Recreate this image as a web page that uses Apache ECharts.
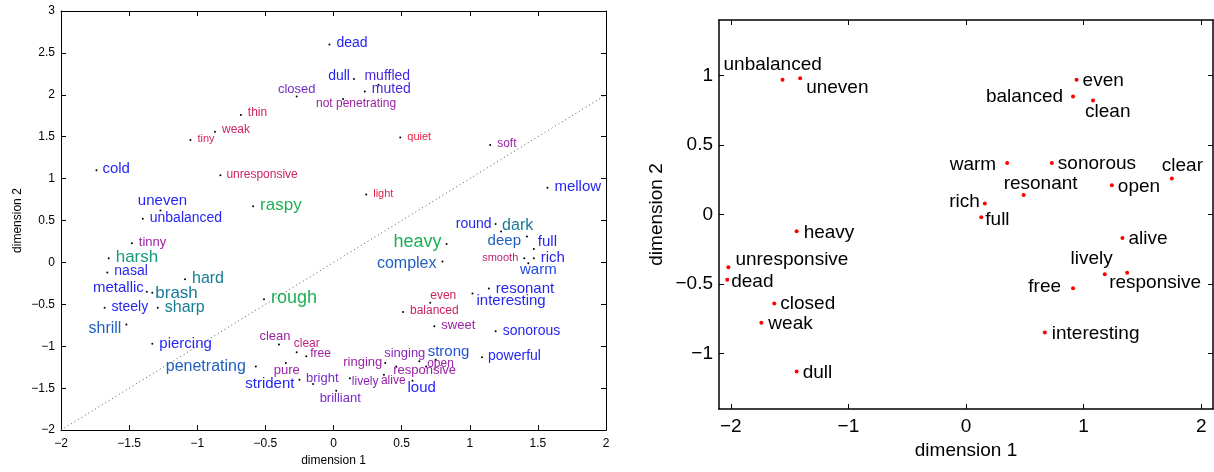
<!DOCTYPE html>
<html><head><meta charset="utf-8">
<script src="https://cdn.jsdelivr.net/npm/echarts@6/dist/echarts.min.js"></script>
<style>html,body{margin:0;padding:0;background:#fff}#c{width:1214px;height:472px}</style>
</head><body><div id="c"></div>
<script>
// ---------- LEFT PANEL DATA ----------
const leftWords = ['dead','dull','muffled','muted','closed','not penetrating','thin','weak','tiny','quiet','soft','cold','unresponsive','light','mellow','uneven','unbalanced','raspy','tinny','harsh','nasal','hard','metallic','brash','steely','sharp','shrill','rough','piercing','penetrating','clean','clear','free','pure','strident','bright','brilliant','round','dark','deep','full','heavy','complex','smooth','rich','warm','resonant','interesting','even','balanced','sweet','sonorous','powerful','strong','open','singing','ringing','responsive','alive','lively','loud'];
const leftX = [-0.03,0.15,0.33,0.23,-0.27,0.07,-0.68,-0.87,-1.05,0.49,1.15,-1.74,-0.83,0.24,1.57,-1.27,-1.40,-0.59,-1.48,-1.65,-1.66,-1.09,-1.37,-1.33,-1.68,-1.29,-1.52,-0.51,-1.33,-0.57,-0.40,-0.27,-0.20,-0.35,-0.25,-0.15,0.02,1.19,1.23,1.42,1.47,0.83,0.80,1.40,1.47,1.43,1.14,1.02,0.71,0.51,0.74,1.19,1.09,0.75,0.68,0.63,0.38,0.46,0.37,0.12,0.58];
const leftY = [2.60,2.19,2.12,2.04,1.98,1.95,1.76,1.56,1.46,1.49,1.40,1.10,1.04,0.81,0.89,0.62,0.52,0.67,0.23,0.05,-0.12,-0.20,-0.35,-0.36,-0.54,-0.54,-0.74,-0.44,-0.97,-1.24,-0.98,-1.07,-1.12,-1.20,-1.40,-1.45,-1.53,0.46,0.37,0.31,0.16,0.22,0.01,0.05,0.05,-0.01,-0.31,-0.37,-0.48,-0.59,-0.76,-0.82,-1.13,-1.16,-1.24,-1.18,-1.20,-1.24,-1.34,-1.38,-1.41];
const leftXTicks = [-2,-1.5,-1,-0.5,0,0.5,1,1.5,2];
const leftYTicks = [-2,-1.5,-1,-0.5,0,0.5,1,1.5,2,2.5,3];
const diagX = [-2, 2];
const diagY = [-2, 2];

// ---------- RIGHT PANEL DATA ----------
const rightWords = ['unbalanced','uneven','heavy','unresponsive','dead','closed','weak','dull','even','balanced','clean','warm','sonorous','clear','resonant','open','rich','full','alive','lively','responsive','free','interesting'];
const rightX = [-1.56,-1.41,-1.44,-2.02,-2.03,-1.63,-1.74,-1.44,0.94,0.91,1.08,0.35,0.73,1.75,0.49,1.24,0.16,0.13,1.33,1.18,1.37,0.91,0.67];
const rightY = [0.97,0.98,-0.12,-0.38,-0.47,-0.64,-0.78,-1.13,0.97,0.85,0.82,0.37,0.37,0.26,0.14,0.21,0.08,-0.02,-0.17,-0.43,-0.42,-0.53,-0.85];
const rightXTicks = [-2,-1,0,1,2];
const rightYTicks = [-1,-0.5,0,0.5,1];

// ---------- STYLES (not data) ----------
const BL='#2626f2', VB='#4a26e0', BT='#2260c0', TE='#177b98', TG='#179a7c', GR='#1fb057', PU='#9a22a4', VI='#762cc8', CR='#cc2264', RD='#ea2244';
const leftColor = [BL,BL,VB,VB,VI,PU,CR,CR,CR,RD,PU,BL,CR,RD,BL,BL,BL,GR,PU,TG,BL,TE,BL,TE,BL,TE,BT,GR,BL,BT,PU,'#c02280',PU,PU,BL,VI,VI,BL,TE,BT,BL,GR,BT,'#c02270',BL,'#2248e4',BL,BL,CR,CR,PU,BL,BL,'#2252d4',PU,'#8a28b8',PU,PU,PU,'#8a28b8',BL];
const leftFont = [14,14,14,14,13,12,12,12,11,11,12,15,12,11,15,15,14,17,13,17,14,16,15,17,14,16,16,18,15,16,13,12,12,13,15,13,13,14,16,15,15,18,16,11,15,15,15,15,12,12,13,14,14,15,12,13,13,13,12,12,15];
// label placement relative to dot: [dx, dy, align]
const leftPlace = [[7,-1,'left'],[-4,-3,'right'],[-14,-9,'left'],[7,-2,'left'],[0,-7,'center'],[13,5,'center'],[7,-2,'left'],[7,-2,'left'],[7,-1,'left'],[7,-1,'left'],[7,-1,'left'],[6,-1,'left'],[6,-1,'left'],[7,-1,'left'],[7,-1,'left'],[2,-10,'center'],[7,-1,'left'],[7,-1,'left'],[7,-1,'left'],[7,-1,'left'],[7,-1,'left'],[7,-1,'left'],[-3,-4,'right'],[3,1,'left'],[7,-1,'left'],[7,0,'left'],[-5,4,'right'],[7,-1,'left'],[7,0,'left'],[-10,0,'right'],[-4,-8,'center'],[-3,-8,'left'],[4,-3,'left'],[1,7,'center'],[-5,4,'right'],[-7,-6,'left'],[4,8,'center'],[-4,0,'right'],[1,-6,'left'],[-6,4,'right'],[4,-7,'left'],[-5,-2,'right'],[-6,2,'right'],[-6,0,'right'],[7,0,'left'],[10,7,'center'],[7,0,'left'],[4,7,'left'],[0,-7,'left'],[7,-1,'left'],[7,-1,'left'],[7,0,'left'],[6,-1,'left'],[-8,-8,'left'],[1,-3,'left'],[6,-8,'right'],[-3,-1,'right'],[-3,4,'left'],[-3,6,'left'],[2,4,'left'],[-5,7,'left']];
const rightPlace = [[-59,-15,'left'],[6,9,'left'],[7,2,'left'],[7,-8,'left'],[4,2,'left'],[6,0,'left'],[7,1,'left'],[6,1,'left'],[6,1,'left'],[-10,0,'right'],[-8,11,'left'],[-11,2,'right'],[6,1,'left'],[-10,-13,'left'],[-20,-11,'left'],[6,1,'left'],[-5,-2,'right'],[4,2,'left'],[6,1,'left'],[8,-15,'right'],[-18,10,'left'],[-12,-1,'right'],[7,1,'left']];

const FF = '"Liberation Sans", Helvetica, Arial, sans-serif';
const RF = 19;
const minus = v => String(v).replace('-', '\u2212');

function axis(gridIndex, position, min, max, ticks, lw, opts) {
  const main = position === 'bottom' || position === 'left';
  return Object.assign({
    type: 'value', gridIndex, position, min, max,
    axisLine: {show: true, onZero: false, lineStyle: {color: '#000', width: lw}},
    axisTick: {show: true, inside: true, length: 5, customValues: ticks, lineStyle: {color: '#000', width: 1}},
    axisLabel: {show: main, customValues: ticks, formatter: minus, color: '#000', fontFamily: FF},
    splitLine: {show: false}
  }, opts || {});
}

const leftData = leftWords.map((w, i) => ({
  value: [leftX[i], leftY[i]], name: w,
  label: {show: true, formatter: w, position: 'inside', offset: [leftPlace[i][0], leftPlace[i][1]],
    align: leftPlace[i][2], verticalAlign: 'middle', color: leftColor[i], fontSize: leftFont[i], fontFamily: FF}
}));
const rightData = rightWords.map((w, i) => ({
  value: [rightX[i], rightY[i]], name: w,
  label: {show: true, formatter: w, position: 'inside', offset: [rightPlace[i][0], rightPlace[i][1]],
    align: rightPlace[i][2], verticalAlign: 'middle', color: '#000', fontSize: RF, fontFamily: FF}
}));

const chart = echarts.init(document.getElementById('c'), null, {renderer: 'canvas'});
chart.setOption({
  animation: false,
  backgroundColor: '#fff',
  grid: [
    {left: 61, top: 11, width: 545, height: 421},
    {left: 719, top: 20, width: 494, height: 389}
  ],
  xAxis: [
    axis(0, 'bottom', -2, 2, leftXTicks, 1, {name: 'dimension 1', nameLocation: 'middle', nameGap: 23,
      nameTextStyle: {fontSize: 12, fontFamily: FF, color: '#000'},
      axisLabel: {show: true, customValues: leftXTicks, formatter: minus, color: '#000', fontFamily: FF, fontSize: 12, margin: 8}}),
    axis(0, 'top', -2, 2, leftXTicks, 1),
    axis(1, 'bottom', -2.1, 2.1, rightXTicks, 1.5, {name: 'dimension 1', nameLocation: 'middle', nameGap: 28,
      nameTextStyle: {fontSize: RF, fontFamily: FF, color: '#000'},
      axisLabel: {show: true, customValues: rightXTicks, formatter: minus, color: '#000', fontFamily: FF, fontSize: RF, margin: 8}}),
    axis(1, 'top', -2.1, 2.1, rightXTicks, 1.5)
  ],
  yAxis: [
    axis(0, 'left', -2, 3, leftYTicks, 1, {name: 'dimension 2', nameLocation: 'middle', nameGap: 37, nameRotate: 90,
      nameTextStyle: {fontSize: 12, fontFamily: FF, color: '#000'},
      axisLabel: {show: true, customValues: leftYTicks, formatter: minus, color: '#000', fontFamily: FF, fontSize: 12, margin: 6}}),
    axis(0, 'right', -2, 3, leftYTicks, 1),
    axis(1, 'left', -1.4, 1.4, rightYTicks, 1.5, {name: 'dimension 2', nameLocation: 'middle', nameGap: 53, nameRotate: 90,
      nameTextStyle: {fontSize: RF, fontFamily: FF, color: '#000'},
      axisLabel: {show: true, customValues: rightYTicks, formatter: minus, color: '#000', fontFamily: FF, fontSize: RF, margin: 6}}),
    axis(1, 'right', -1.4, 1.4, rightYTicks, 1.5)
  ],
  series: [
    {type: 'line', xAxisIndex: 0, yAxisIndex: 0, data: diagX.map((x, i) => [x, diagY[i]]),
      symbol: 'none', lineStyle: {color: '#555', width: 1, type: [1, 3]}, silent: true},
    {type: 'scatter', xAxisIndex: 0, yAxisIndex: 0, data: leftData, symbolSize: 2,
      itemStyle: {color: '#000', opacity: 1}, silent: true, emphasis: {disabled: true}},
    {type: 'scatter', xAxisIndex: 2, yAxisIndex: 2, data: rightData, symbolSize: 4,
      itemStyle: {color: '#ff0000', opacity: 1}, silent: true, emphasis: {disabled: true}}
  ]
});
</script></body></html>
